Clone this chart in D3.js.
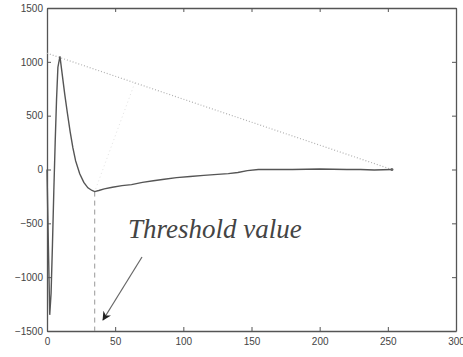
<!DOCTYPE html>
<html>
<head>
<meta charset="utf-8">
<script src="https://cdn.jsdelivr.net/npm/d3@7"></script>
<style>
body { margin: 0; background: #fff; }
</style>
</head>
<body>
<div class="contents"></div>
<script>
var width = 463;
var height = 357;
var margin = {top: 8, right: 7, bottom: 26, left: 47};

// curve
var curveX = [0, 1, 2, 3, 4, 5, 6, 7, 8, 9.5, 11, 13, 15, 17, 19, 21, 24, 27, 30, 33, 35, 38, 42, 48, 55, 62, 70, 78, 86, 95, 105, 115, 125, 133, 140, 147, 155, 180, 200, 220, 230, 240, 253];
var curveY = [0, -700, -1350, -1150, -700, -200, 250, 650, 950, 1050, 900, 700, 520, 350, 200, 80, -40, -120, -170, -195, -205, -195, -180, -165, -150, -140, -120, -105, -90, -75, -65, -55, -45, -38, -28, -10, 0, 0, 5, 0, 0, -5, 0];

// straight dotted line from the start of the peak to the end point
var chordX = [0, 253];
var chordY = [1080, 0];

var thresholdX = 35;
var thresholdY = -205;

var xTicks = [0, 50, 100, 150, 200, 250, 300];
var yTicks = [-1500, -1000, -500, 0, 500, 1000, 1500];

var svg = d3.select(".contents").append("svg")
			.attr("width", width)
			.attr("height", height)
			.style("font-family", "Arial, 'Liberation Sans', sans-serif");

var x = d3.scaleLinear().domain([0, 300]).range([margin.left, width - margin.right]);
var y = d3.scaleLinear().domain([-1500, 1500]).range([height - margin.bottom, margin.top]);

var axisColor = "#555";
var fmt = d3.format("d");

// axes, ticks inward on all four sides
svg.append("g")
		.attr("transform", "translate(0," + (height - margin.bottom) + ")")
		.call(d3.axisBottom(x).tickValues(xTicks).tickSizeInner(-4).tickSizeOuter(0).tickPadding(7).tickFormat(fmt));
svg.append("g")
		.attr("transform", "translate(" + margin.left + ",0)")
		.call(d3.axisLeft(y).tickValues(yTicks).tickSizeInner(-4).tickSizeOuter(0).tickPadding(4).tickFormat(fmt));
svg.append("g")
		.attr("transform", "translate(0," + margin.top + ")")
		.call(d3.axisTop(x).tickValues(xTicks).tickSizeInner(-4).tickSizeOuter(0).tickFormat(""));
svg.append("g")
		.attr("transform", "translate(" + (width - margin.right) + ",0)")
		.call(d3.axisRight(y).tickValues(yTicks).tickSizeInner(-4).tickSizeOuter(0).tickFormat(""));

svg.selectAll(".domain").style("stroke", axisColor).style("stroke-width", 1.3);
svg.selectAll(".tick line").style("stroke", axisColor);
svg.selectAll(".tick text").style("fill", "#444").style("font-size", "10px");

// dotted chord
svg.append("line")
		.attr("x1", x(chordX[0])).attr("y1", y(chordY[0]))
		.attr("x2", x(chordX[1])).attr("y2", y(chordY[1]))
		.style("stroke", "#b0b0b0")
		.style("stroke-width", 1.2)
		.style("stroke-dasharray", "1,2");

// faint perpendicular from the chord to the minimum
var footX = 64.4;
var footY = chordY[0] + (chordY[1] - chordY[0]) * footX / chordX[1];
svg.append("line")
		.attr("x1", x(footX)).attr("y1", y(footY))
		.attr("x2", x(thresholdX)).attr("y2", y(thresholdY))
		.style("stroke", "#e2e2e2")
		.style("stroke-width", 1)
		.style("stroke-dasharray", "1,3");

// threshold dashed line
svg.append("line")
		.attr("x1", x(thresholdX)).attr("y1", y(thresholdY))
		.attr("x2", x(thresholdX)).attr("y2", y(-1500))
		.style("stroke", "#999")
		.style("stroke-width", 1)
		.style("stroke-dasharray", "5,4");

var pts = curveX.map(function(d, i){ return [d, curveY[i]]; });
var line = d3.line()
		.x(function(d){ return x(d[0]); })
		.y(function(d){ return y(d[1]); });

svg.append("path")
		.attr("d", line(pts))
		.style("fill", "none")
		.style("stroke", "#555")
		.style("stroke-width", 1.4);

svg.append("circle")
		.attr("cx", x(253)).attr("cy", y(0)).attr("r", 1.5)
		.style("fill", "#666");

// annotation
svg.append("text")
		.attr("x", 128).attr("y", 238)
		.text("Threshold value")
		.style("font-family", "'Liberation Serif', 'Times New Roman', serif")
		.style("font-style", "italic")
		.style("font-size", "27px")
		.style("fill", "#444");

svg.append("defs").append("marker")
		.attr("id", "head")
		.attr("viewBox", "0 0 10 10")
		.attr("refX", 9).attr("refY", 5)
		.attr("markerWidth", 9).attr("markerHeight", 9)
		.attr("markerUnits", "userSpaceOnUse")
		.attr("orient", "auto")
		.append("path")
		.attr("d", "M0,0 L10,5 L0,10 L3,5 Z")
		.style("fill", "#222");

svg.append("line")
		.attr("x1", 142).attr("y1", 257)
		.attr("x2", 103).attr("y2", 320)
		.style("stroke", "#666")
		.style("stroke-width", 1.2)
		.attr("marker-end", "url(#head)");
</script>
</body>
</html>
